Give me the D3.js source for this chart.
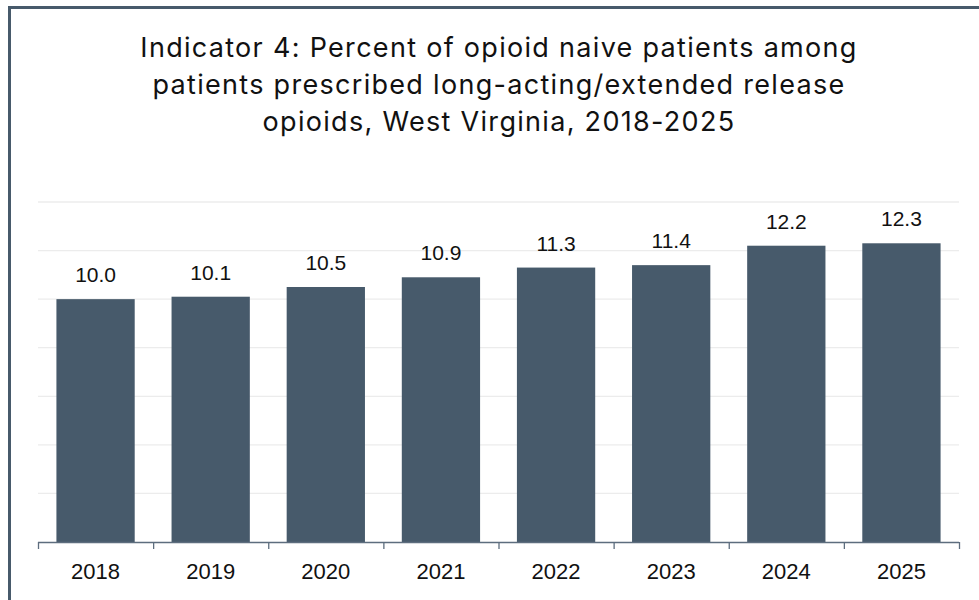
<!DOCTYPE html>
<html>
<head>
<meta charset="utf-8">
<script src="https://cdn.jsdelivr.net/npm/d3@7"></script>
<style>
  body { margin: 0; background: #fff; }
  text { font-family: "Liberation Sans", Arial, sans-serif; }
  .title { font-family: Inter, "Open Sans", sans-serif; letter-spacing: 1.3px; }
</style>
</head>
<body>
<script>
// chart data
const years = ["2018", "2019", "2020", "2021", "2022", "2023", "2024", "2025"];
const percents = [10.0, 10.1, 10.5, 10.9, 11.3, 11.4, 12.2, 12.3];
const gridTicks = [0, 2, 4, 6, 8, 10, 12, 14];
const titleLines = [
  "Indicator 4: Percent of opioid naive patients among",
  "patients prescribed long-acting/extended release",
  "opioids, West Virginia, 2018-2025"
];

const W = 979, H = 600;
const barColor = "#475a6b";

const svg = d3.select("body").append("svg")
  .attr("width", W).attr("height", H);

// outer frame (right/bottom edges cut off in the original)
svg.append("rect")
  .attr("x", 9.5).attr("y", 7.5)
  .attr("width", 1000).attr("height", 700)
  .attr("fill", "#fff")
  .attr("stroke", "#475a6b")
  .attr("stroke-width", 3);

// title
svg.append("g").selectAll("text")
  .data(titleLines)
  .join("text")
  .attr("class", "title")
  .attr("x", 499)
  .attr("y", (d, i) => 57 + i * 37)
  .attr("text-anchor", "middle")
  .attr("font-size", 27)
  .attr("fill", "#111")
  .text(d => d);

const x = d3.scaleBand()
  .domain(years)
  .range([38, 959])
  .paddingInner(0.32)
  .paddingOuter(0.16);

const y = d3.scaleLinear()
  .domain([0, 14])
  .range([542, 202]);

// gridlines
svg.append("g").selectAll("line")
  .data(gridTicks.slice(1))
  .join("line")
  .attr("x1", 38).attr("x2", 959)
  .attr("y1", d => y(d)).attr("y2", d => y(d))
  .attr("stroke", "#ececec")
  .attr("stroke-width", 1.3);

// bars
svg.append("g").selectAll("rect")
  .data(percents)
  .join("rect")
  .attr("x", (d, i) => x(years[i]))
  .attr("y", d => y(d))
  .attr("width", x.bandwidth())
  .attr("height", d => y(0) - y(d))
  .attr("fill", barColor);

// value labels
svg.append("g").selectAll("text")
  .data(percents)
  .join("text")
  .attr("x", (d, i) => x(years[i]) + x.bandwidth() / 2)
  .attr("y", d => y(d) - 17)
  .attr("text-anchor", "middle")
  .attr("font-size", 21)
  .attr("fill", "#111")
  .text(d => d.toFixed(1));

// x axis with category boundary ticks
const step = x.step();
const axis = svg.append("g");
axis.append("line")
  .attr("x1", 38).attr("x2", 959)
  .attr("y1", 542.5).attr("y2", 542.5)
  .attr("stroke", "#5d6d7e").attr("stroke-width", 1.3);
axis.selectAll("line.tick")
  .data(d3.range(years.length + 1))
  .join("line")
  .attr("class", "tick")
  .attr("x1", i => 38.5 + i * step).attr("x2", i => 38.5 + i * step)
  .attr("y1", 542).attr("y2", 549)
  .attr("stroke", "#5d6d7e").attr("stroke-width", 1.3);
axis.selectAll("text")
  .data(years)
  .join("text")
  .attr("x", d => x(d) + x.bandwidth() / 2)
  .attr("y", 579)
  .attr("text-anchor", "middle")
  .attr("font-size", 22)
  .attr("fill", "#111")
  .text(d => d);
</script>
</body>
</html>
